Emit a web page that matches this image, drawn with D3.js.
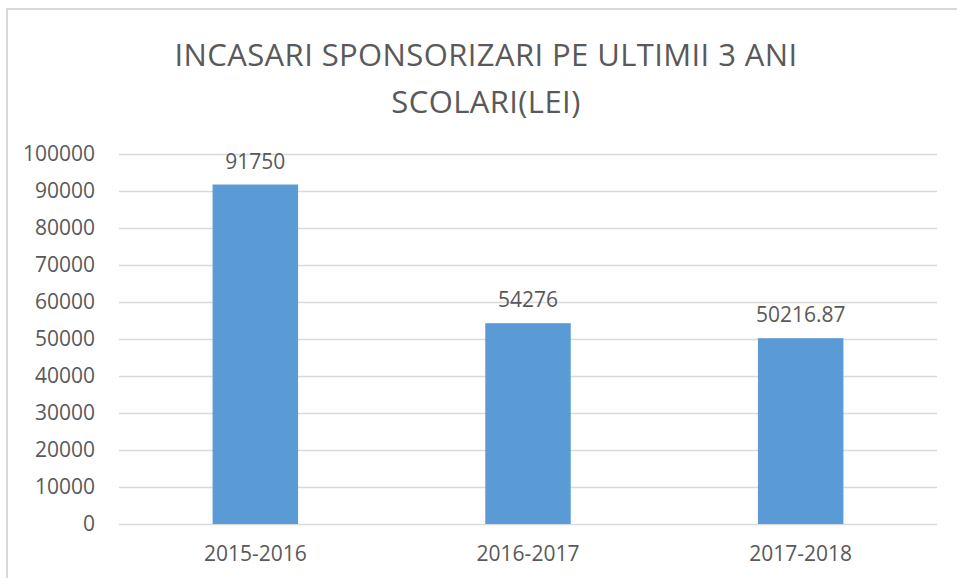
<!DOCTYPE html>
<meta charset="utf-8">
<head>
<script src="https://d3js.org/d3.v7.min.js"></script>
<style>
  body { margin: 0; background: #fff; }
  text { font-family: "Open Sans", sans-serif; fill: #595959; }
</style>
</head>
<body>
<div id="my_dataviz"></div>
<script>

// data
var years = ["2015-2016", "2016-2017", "2017-2018"];
var amounts = [91750, 54276, 50216.87];
var amountLabels = ["91750", "54276", "50216.87"];
var yTicks = [0, 10000, 20000, 30000, 40000, 50000, 60000, 70000, 80000, 90000, 100000];
var titleLines = ["INCASARI SPONSORIZARI PE ULTIMII 3 ANI", "SCOLARI(LEI)"];

var W = 957, H = 578;
var margin = {top: 154, right: 20, bottom: 54, left: 119},
    width = W - margin.left - margin.right,
    height = H - margin.top - margin.bottom;

var root = d3.select("#my_dataviz")
  .append("svg")
    .attr("width", W)
    .attr("height", H);

// chart frame (cropped on right and bottom)
root.append("rect")
  .attr("x", 7).attr("y", 9)
  .attr("width", 980).attr("height", 600)
  .attr("fill", "none")
  .attr("stroke", "#d9d9d9")
  .attr("stroke-width", 2);

// title
root.append("text")
  .attr("x", 486)
  .attr("text-anchor", "middle")
  .style("font-size", "31px")
  .style("letter-spacing", "0.4px")
  .selectAll("tspan")
  .data(titleLines)
  .enter()
  .append("tspan")
    .attr("x", 486)
    .attr("y", function(d, i) { return 66 + i * 47; })
    .text(function(d) { return d; });

var svg = root.append("g")
  .attr("transform", "translate(" + margin.left + "," + margin.top + ")");

var x = d3.scaleBand()
  .domain(years)
  .range([0, width])
  .paddingInner(2.19 / 3.19)
  .paddingOuter(2.19 / 3.19 / 2);

var y = d3.scaleLinear()
  .domain([0, 100000])
  .range([height, 0]);

// gridlines
svg.append("g")
  .selectAll("line")
  .data(yTicks)
  .enter()
  .append("line")
    .attr("x1", 0)
    .attr("x2", width)
    .attr("y1", function(d) { return y(d) + 0.5; })
    .attr("y2", function(d) { return y(d) + 0.5; })
    .attr("stroke", "#d9d9d9")
    .attr("stroke-width", 1.5);

// y axis labels
var yAxis = svg.append("g")
  .attr("transform", "translate(-21,0)")
  .call(d3.axisLeft(y).tickValues(yTicks).tickSize(0).tickFormat(d3.format("d")));
yAxis.select(".domain").remove();
yAxis.selectAll("text")
  .style("font-size", "21px")
  .style("font-family", "Open Sans, sans-serif")
  .attr("fill", "#595959");

// bars
svg.selectAll("rect.bar")
  .data(amounts)
  .enter()
  .append("rect")
    .attr("class", "bar")
    .attr("x", function(d, i) { return x(years[i]); })
    .attr("y", function(d) { return y(d); })
    .attr("width", x.bandwidth())
    .attr("height", function(d) { return height - y(d); })
    .attr("fill", "#5b9bd5");

// value labels
svg.selectAll("text.val")
  .data(amounts)
  .enter()
  .append("text")
    .attr("class", "val")
    .attr("x", function(d, i) { return x(years[i]) + x.bandwidth() / 2; })
    .attr("y", function(d) { return y(d) - 16; })
    .attr("text-anchor", "middle")
    .style("font-size", "21px")
    .text(function(d, i) { return amountLabels[i]; });

// x axis labels
var xAxis = svg.append("g")
  .attr("transform", "translate(0," + height + ")")
  .call(d3.axisBottom(x).tickSize(0).tickPadding(22));
xAxis.select(".domain").remove();
xAxis.selectAll("text")
  .style("font-size", "21px")
  .style("font-family", "Open Sans, sans-serif")
  .attr("fill", "#595959");

</script>
</body>
